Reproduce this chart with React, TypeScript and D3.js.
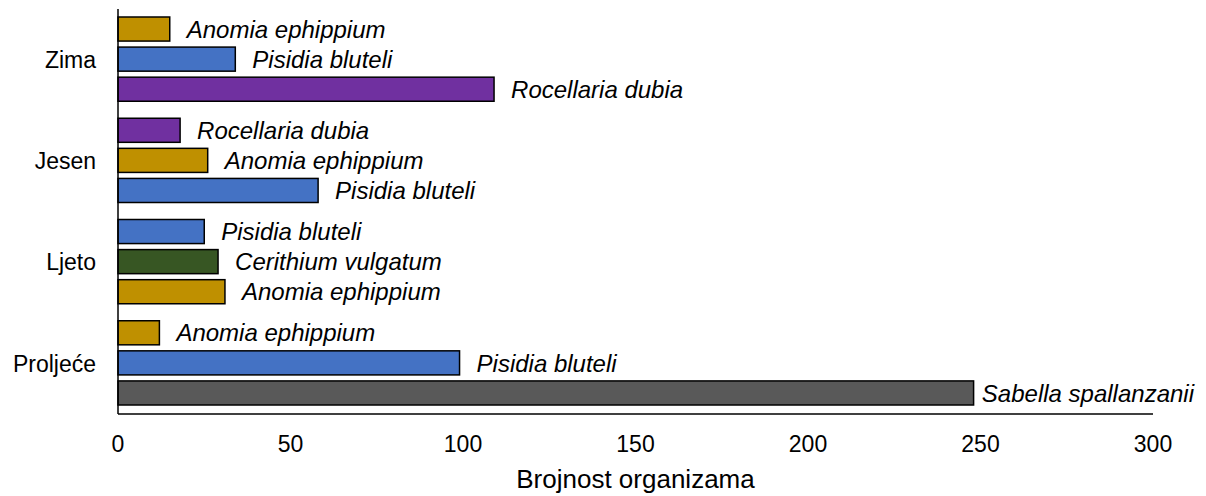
import React, { useRef, useLayoutEffect } from "react";
import * as d3 from "d3";

const seasons = ["Zima", "Jesen", "Ljeto", "Proljeće"];

// species shown in each season, top to bottom
const zimaSpecies = ["Anomia ephippium", "Pisidia bluteli", "Rocellaria dubia"];
const zimaValues = [15, 34, 109];
const jesenSpecies = ["Rocellaria dubia", "Anomia ephippium", "Pisidia bluteli"];
const jesenValues = [18, 26, 58];
const ljetoSpecies = ["Pisidia bluteli", "Cerithium vulgatum", "Anomia ephippium"];
const ljetoValues = [25, 29, 31];
const proljeceSpecies = ["Anomia ephippium", "Pisidia bluteli", "Sabella spallanzanii"];
const proljeceValues = [12, 99, 248];

const xTicks = [0, 50, 100, 150, 200, 250, 300];

const speciesColor: Record<string, string> = {
  "Anomia ephippium": "#BF9000",
  "Pisidia bluteli": "#4472C4",
  "Rocellaria dubia": "#7030A0",
  "Cerithium vulgatum": "#375623",
  "Sabella spallanzanii": "#595959",
};

const groups = [
  { season: "Zima", species: zimaSpecies, values: zimaValues },
  { season: "Jesen", species: jesenSpecies, values: jesenValues },
  { season: "Ljeto", species: ljetoSpecies, values: ljetoValues },
  { season: "Proljeće", species: proljeceSpecies, values: proljeceValues },
];

const W = 1206;
const H = 496;
const margin = { left: 118, right: 53, top: 9, bottom: 82 };
const labelRightLimit = W - 12;

const App: React.FC = () => {
  const svgRef = useRef<SVGSVGElement>(null);

  const x = d3
    .scaleLinear()
    .domain([0, 300])
    .range([margin.left, W - margin.right]);

  const y = d3
    .scaleBand<string>()
    .domain(seasons)
    .range([margin.top, H - margin.bottom])
    .paddingInner(0)
    .paddingOuter(0);

  const inner = d3
    .scaleBand<number>()
    .domain([0, 1, 2])
    .range([8, y.bandwidth() - 9])
    .paddingInner(0.2)
    .paddingOuter(0);

  // labels that would run off the right edge get pulled back in
  useLayoutEffect(() => {
    if (!svgRef.current) return;
    d3.select(svgRef.current)
      .selectAll<SVGTextElement, unknown>("text.bar-label")
      .each(function () {
        const w = this.getComputedTextLength();
        const x0 = +(this.getAttribute("x") || 0);
        if (x0 + w > labelRightLimit) {
          const end = +(this.getAttribute("data-end") || 0);
          this.setAttribute("x", String(Math.max(end + 7, labelRightLimit - w)));
        }
      });
  }, []);

  const font = "'Liberation Sans', Arial, sans-serif";
  const axisY = H - margin.bottom;

  return (
    <svg
      ref={svgRef}
      width={W}
      height={H}
      style={{ position: "absolute", left: 0, top: 0, background: "#fff" }}
      fontFamily={font}
    >
      {groups.map((g) => (
        <g key={g.season} transform={`translate(0, ${y(g.season)})`}>
          {g.values.map((v, i) => (
            <g key={i}>
              <rect
                x={x(0)}
                y={inner(i)}
                width={x(v) - x(0)}
                height={inner.bandwidth()}
                fill={speciesColor[g.species[i]]}
                stroke="#000"
                strokeWidth={1.5}
              />
              <text
                className="bar-label"
                data-end={x(v)}
                x={x(v) + 17}
                y={(inner(i) ?? 0) + inner.bandwidth() / 2}
                dy="0.36em"
                fontSize={24}
                fontStyle="italic"
                fill="#000"
              >
                {g.species[i]}
              </text>
            </g>
          ))}
          <text
            x={margin.left - 22}
            y={y.bandwidth() / 2}
            dy="0.36em"
            textAnchor="end"
            fontSize={23}
            fill="#000"
          >
            {g.season}
          </text>
        </g>
      ))}

      {/* axes */}
      <line x1={x(0)} x2={x(0)} y1={margin.top} y2={axisY} stroke="#000" strokeWidth={1.5} />
      <line x1={x(0)} x2={x(300)} y1={axisY} y2={axisY} stroke="#000" strokeWidth={1.5} />

      {xTicks.map((t) => (
        <text
          key={t}
          x={x(t)}
          y={axisY + 38}
          textAnchor="middle"
          fontSize={23}
          fill="#000"
        >
          {t}
        </text>
      ))}

      <text
        x={(x(0) + x(300)) / 2}
        y={488}
        textAnchor="middle"
        fontSize={26}
        fill="#000"
      >
        Brojnost organizama
      </text>
    </svg>
  );
};

export default App;
